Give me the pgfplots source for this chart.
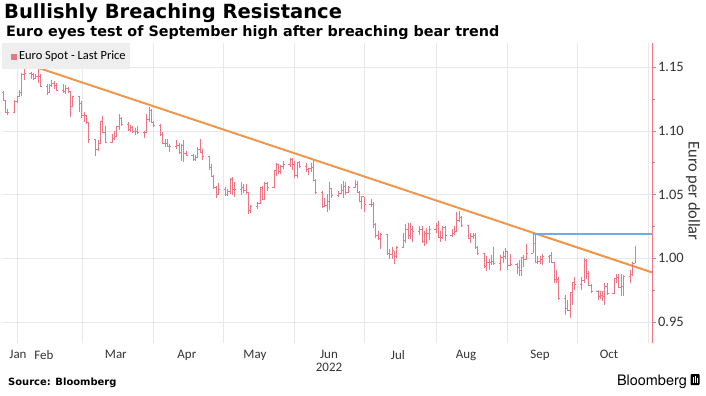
\documentclass[border=0pt]{standalone}
\usepackage{fontspec}
\usepackage{pgfplots}
\pgfplotsset{compat=1.18}
\usepackage{pgfplotstable}
\setmainfont{Carlito}
\newfontfamily\djv{DejaVu Sans}
\newfontfamily\heros{TeX Gyre Heros}
\definecolor{barc}{RGB}{238,118,132}
\definecolor{trendc}{RGB}{242,150,78}
\definecolor{bluec}{RGB}{110,172,230}
\definecolor{axisc}{RGB}{242,120,128}
\definecolor{gridc}{RGB}{232,232,232}
\definecolor{legbg}{RGB}{238,238,238}

\pgfdeclareplotmark{emptymk}{}

\pgfplotstableread{
d o h l c
25 1.1300 1.1310 1.1235 1.1240
26 1.1240 1.1245 1.1140 1.1145
27 1.1145 1.1175 1.1121 1.1148
30 1.1148 1.1240 1.1145 1.1235
31 1.1235 1.1275 1.1215 1.1270
32 1.1270 1.1320 1.1265 1.1305
33 1.1305 1.1450 1.1270 1.1440
34 1.1440 1.1485 1.1395 1.1455
37 1.1455 1.1465 1.1410 1.1440
38 1.1440 1.1450 1.1400 1.1415
39 1.1415 1.1445 1.1405 1.1425
40 1.1425 1.1495 1.1375 1.1425
41 1.1425 1.1445 1.1345 1.1350
44 1.1350 1.1365 1.1280 1.1305
45 1.1305 1.1370 1.1300 1.1360
46 1.1360 1.1395 1.1345 1.1375
47 1.1375 1.1390 1.1330 1.1360
48 1.1360 1.1375 1.1315 1.1320
51 1.1320 1.1365 1.1295 1.1310
52 1.1310 1.1360 1.1290 1.1330
53 1.1330 1.1345 1.1300 1.1310
54 1.1310 1.1315 1.1106 1.1190
55 1.1190 1.1275 1.1185 1.1270
58 1.1270 1.1275 1.1150 1.1220
59 1.1220 1.1235 1.1100 1.1125
60 1.1125 1.1150 1.1070 1.1120
61 1.1120 1.1125 1.1050 1.1065
62 1.1065 1.1070 1.0905 1.0930
65 1.0930 1.0935 1.0806 1.0855
66 1.0855 1.0925 1.0845 1.0900
67 1.0900 1.1080 1.0895 1.1075
68 1.1075 1.1120 1.0980 1.0985
69 1.0985 1.1040 1.0905 1.0912
72 1.0912 1.0975 1.0905 1.0940
73 1.0940 1.1000 1.0930 1.0955
74 1.0955 1.1040 1.0950 1.1035
75 1.1035 1.1135 1.1005 1.1095
76 1.1095 1.1105 1.1035 1.1050
79 1.1050 1.1070 1.1000 1.1015
80 1.1015 1.1045 1.0990 1.1030
81 1.1030 1.1040 1.0985 1.1000
82 1.1000 1.1025 1.0965 1.0995
83 1.0995 1.1035 1.0975 1.0985
86 1.0985 1.1000 1.0945 1.0985
87 1.0985 1.1135 1.0980 1.1090
88 1.1090 1.1185 1.1070 1.1160
89 1.1160 1.1170 1.1060 1.1067
90 1.1067 1.1075 1.1030 1.1045
93 1.1045 1.1050 1.0960 1.0970
94 1.0970 1.0990 1.0900 1.0905
95 1.0905 1.0935 1.0870 1.0900
96 1.0900 1.0935 1.0870 1.0880
97 1.0880 1.0900 1.0837 1.0875
100 1.0875 1.0925 1.0860 1.0885
101 1.0885 1.0905 1.0820 1.0830
102 1.0830 1.0900 1.0760 1.0890
103 1.0890 1.0925 1.0757 1.0825
104 1.0825 1.0840 1.0800 1.0810
107 1.0810 1.0815 1.0760 1.0780
108 1.0780 1.0810 1.0760 1.0790
109 1.0790 1.0870 1.0785 1.0853
110 1.0853 1.0935 1.0825 1.0835
111 1.0835 1.0860 1.0770 1.0798
114 1.0798 1.0805 1.0695 1.0715
115 1.0715 1.0740 1.0635 1.0640
116 1.0640 1.0650 1.0545 1.0560
117 1.0560 1.0565 1.0470 1.0500
118 1.0500 1.0590 1.0495 1.0545
121 1.0545 1.0560 1.0490 1.0505
122 1.0505 1.0545 1.0490 1.0525
123 1.0525 1.0630 1.0505 1.0620
124 1.0620 1.0640 1.0495 1.0540
125 1.0540 1.0600 1.0485 1.0545
128 1.0545 1.0595 1.0500 1.0560
129 1.0560 1.0580 1.0510 1.0530
130 1.0530 1.0580 1.0505 1.0515
131 1.0515 1.0520 1.0350 1.0380
132 1.0380 1.0420 1.0355 1.0410
135 1.0410 1.0445 1.0390 1.0435
136 1.0435 1.0560 1.0430 1.0555
137 1.0555 1.0565 1.0460 1.0465
138 1.0465 1.0600 1.0460 1.0585
139 1.0585 1.0600 1.0530 1.0560
142 1.0560 1.0695 1.0555 1.0690
143 1.0690 1.0750 1.0645 1.0735
144 1.0735 1.0740 1.0660 1.0680
145 1.0680 1.0735 1.0665 1.0725
146 1.0725 1.0765 1.0700 1.0735
149 1.0735 1.0787 1.0715 1.0780
150 1.0780 1.0785 1.0690 1.0735
151 1.0735 1.0765 1.0630 1.0650
152 1.0650 1.0755 1.0630 1.0750
153 1.0750 1.0765 1.0705 1.0720
156 1.0720 1.0750 1.0680 1.0695
157 1.0695 1.0710 1.0655 1.0705
158 1.0705 1.0750 1.0680 1.0715
159 1.0715 1.0775 1.0610 1.0615
160 1.0615 1.0625 1.0505 1.0520
163 1.0520 1.0525 1.0395 1.0410
164 1.0410 1.0475 1.0400 1.0415
165 1.0415 1.0505 1.0360 1.0445
166 1.0445 1.0600 1.0380 1.0550
167 1.0550 1.0555 1.0475 1.0495
170 1.0495 1.0530 1.0485 1.0510
171 1.0510 1.0580 1.0505 1.0535
172 1.0535 1.0605 1.0470 1.0565
173 1.0565 1.0595 1.0500 1.0520
174 1.0520 1.0570 1.0515 1.0555
177 1.0555 1.0615 1.0550 1.0580
178 1.0580 1.0605 1.0510 1.0520
179 1.0520 1.0530 1.0440 1.0445
180 1.0445 1.0490 1.0385 1.0485
181 1.0485 1.0485 1.0365 1.0425
184 1.0425 1.0465 1.0405 1.0425
185 1.0425 1.0445 1.0235 1.0265
186 1.0265 1.0275 1.0160 1.0180
187 1.0180 1.0215 1.0145 1.0160
188 1.0160 1.0200 1.0070 1.0185
191 1.0185 1.0190 1.0030 1.0040
192 1.0040 1.0070 0.9998 1.0035
193 1.0035 1.0090 0.9998 1.0060
194 1.0060 1.0060 0.9952 1.0020
195 1.0020 1.0095 1.0005 1.0085
198 1.0085 1.0200 1.0080 1.0145
199 1.0145 1.0270 1.0120 1.0225
200 1.0225 1.0275 1.0155 1.0180
201 1.0180 1.0280 1.0155 1.0230
202 1.0230 1.0255 1.0130 1.0210
205 1.0210 1.0255 1.0180 1.0225
206 1.0225 1.0250 1.0120 1.0130
207 1.0130 1.0215 1.0095 1.0200
208 1.0200 1.0235 1.0115 1.0195
209 1.0195 1.0255 1.0145 1.0225
212 1.0225 1.0275 1.0200 1.0260
213 1.0260 1.0295 1.0160 1.0165
214 1.0165 1.0215 1.0125 1.0165
215 1.0165 1.0255 1.0150 1.0245
216 1.0245 1.0250 1.0140 1.0180
219 1.0180 1.0230 1.0165 1.0195
220 1.0195 1.0250 1.0185 1.0210
221 1.0210 1.0365 1.0205 1.0295
222 1.0295 1.0368 1.0285 1.0320
223 1.0320 1.0330 1.0245 1.0260
226 1.0260 1.0265 1.0150 1.0160
227 1.0160 1.0200 1.0120 1.0170
228 1.0170 1.0200 1.0150 1.0180
229 1.0180 1.0200 1.0075 1.0085
230 1.0085 1.0095 1.0030 1.0040
233 1.0040 1.0045 0.9925 0.9940
234 0.9940 1.0015 0.9900 0.9970
235 0.9970 0.9995 0.9905 0.9970
236 0.9970 1.0030 0.9950 0.9975
237 0.9975 1.0090 0.9945 0.9965
240 0.9965 1.0025 0.9900 1.0005
241 1.0005 1.0055 0.9965 1.0015
242 1.0015 1.0080 0.9995 1.0055
243 1.0055 1.0055 0.9910 0.9945
244 0.9945 1.0035 0.9940 0.9955
247 0.9955 0.9960 0.9875 0.9930
248 0.9930 0.9990 0.9865 0.9905
249 0.9905 1.0010 0.9865 1.0010
250 1.0010 1.0030 0.9930 0.9995
251 0.9995 1.0115 0.9990 1.0040
254 1.0040 1.0198 1.0045 1.0120
255 1.0120 1.0185 0.9965 0.9970
256 0.9970 1.0020 0.9955 0.9980
257 0.9980 1.0015 0.9955 0.9990
258 0.9990 1.0035 0.9945 1.0015
261 1.0015 1.0030 0.9965 1.0025
262 1.0025 1.0050 0.9965 0.9970
263 0.9970 0.9975 0.9810 0.9835
264 0.9835 0.9905 0.9810 0.9835
265 0.9835 0.9850 0.9670 0.9690
268 0.9690 0.9710 0.9553 0.9605
269 0.9605 0.9670 0.9590 0.9590
270 0.9590 0.9740 0.9536 0.9735
271 0.9735 0.9815 0.9635 0.9815
272 0.9815 0.9855 0.9750 0.9800
275 0.9800 0.9855 0.9755 0.9825
276 0.9825 0.9999 0.9810 0.9985
277 0.9985 0.9995 0.9835 0.9880
278 0.9880 0.9900 0.9780 0.9790
279 0.9790 0.9800 0.9725 0.9740
282 0.9740 0.9750 0.9670 0.9705
283 0.9705 0.9745 0.9685 0.9710
284 0.9710 0.9745 0.9665 0.9705
285 0.9705 0.9810 0.9632 0.9780
286 0.9780 0.9810 0.9710 0.9725
289 0.9725 0.9845 0.9720 0.9840
290 0.9840 0.9875 0.9805 0.9855
291 0.9855 0.9875 0.9765 0.9775
292 0.9775 0.9875 0.9705 0.9780
293 0.9780 0.9870 0.9705 0.9860
296 0.9860 0.9905 0.9810 0.9875
297 0.9875 0.9975 0.9865 0.9965
298 0.9965 1.0094 0.9960 1.0080
}\eurusd

\begin{document}
\begin{tikzpicture}[x=1bp,y=1bp]
\useasboundingbox (0,0) rectangle (706,-395);
\coordinate (AxSW) at (2,-343);
\begin{axis}[
  at={(AxSW)}, anchor=south west, scale only axis,
  width=650bp, height=300bp,
  xmin=24.5, xmax=305.4, ymin=0.9336, ymax=1.1689,
  axis y line*=right, axis x line*=bottom,
  x axis line style={draw=none},
  y axis line style={draw=axisc, line width=0.8pt},
  xtick={31.4,42.6,73.7,104.4,133.8,165.8,195.6,225,257,286.8},
  xticklabels={Jan,Feb,Mar,Apr,May,Jun,Jul,Aug,Sep,Oct},
  minor xtick={31,59,90,120,151,181,212,243,273,304},
  xmajorgrids=false, xminorgrids=true, ymajorgrids=true,
  major grid style={gridc, line width=0.6pt},
  minor grid style={gridc, line width=0.6pt},
  x tick style={draw=none},
  ytick={0.95,1.00,1.05,1.10,1.15},
  yticklabels={0.95,1.00,1.05,1.10,1.15},
  minor ytick={0.975,1.025,1.075,1.125},
  y tick style={axisc, line width=0.6pt},
  tick align=outside, major tick length=4bp, minor tick length=2.5bp,
  xticklabel style={font=\fontsize{13}{13}\selectfont, text=black!80},
  yticklabel style={font=\fontsize{14.5}{14.5}\selectfont, text=black!80, xshift=-1.5bp},
  legend style={at={(0,1)}, anchor=north west, draw=none, fill=legbg,
    font=\fontsize{12.5}{12.5}\selectfont, inner xsep=2bp, inner ysep=5.5bp,
    nodes={inner sep=2.5bp}},
  legend cell align=left,
  clip=true,
]
\addplot[scatter, only marks, mark=emptymk,
  legend image code/.code={\path (0bp,0bp); \fill[barc] (7bp,-2.5bp) rectangle (12bp,2.5bp);},
  visualization depends on={\thisrow{h}-\thisrow{c} \as \vhi},
  visualization depends on={\thisrow{l}-\thisrow{c} \as \vlo},
  visualization depends on={\thisrow{o}-\thisrow{c} \as \vop},
  scatter/@pre marker code/.code={%
    \draw[barc, line width=0.7pt] (axis direction cs:0,\vhi) -- (axis direction cs:0,\vlo);
    \draw[barc, line width=0.6pt] (axis direction cs:0,\vop) -- +(-1.6bp,0pt);
    \draw[barc, line width=0.6pt] (0pt,0pt) -- (1.6bp,0pt);
  },
  scatter/@post marker code/.code={},
] table[x=d, y=c] {\eurusd};
\addlegendentry{Euro Spot - Last Price}
\addplot[forget plot, trendc, line width=2pt] coordinates {(40,1.1495) (305.4,0.9890)};
\addplot[forget plot, bluec, line width=1.8pt] coordinates {(254,1.0190) (305.4,1.0190)};
\end{axis}
\node[anchor=base west, inner sep=0, font=\djv\bfseries\fontsize{19.6}{19.6}\selectfont] at (4,-18.5) {Bullishly Breaching Resistance};
\node[anchor=base west, inner sep=0, font=\djv\bfseries\fontsize{14.4}{14.4}\selectfont] at (6,-36) {Euro eyes test of September high after breaching bear trend};
\node[anchor=center, inner sep=0, font=\fontsize{13}{13}\selectfont, text=black!80] at (329,-367) {2022};
\node[rotate=-90, anchor=center, inner sep=0, font=\fontsize{16.5}{16.5}\selectfont, text=black!80] at (693,-191) {Euro per dollar};
\node[anchor=base west, inner sep=0, font=\djv\bfseries\fontsize{10}{10}\selectfont] at (8,-385) {Source: Bloomberg};
\node[anchor=base east, inner sep=0, font=\heros\fontsize{14.5}{14.5}\selectfont] at (687,-385) {Bloomberg};
\fill[black, rounded corners=1bp] (690.5,-374) rectangle (699.5,-385);
\draw[white, line width=0.8pt] (693,-377) -- (693,-383) (695,-376) -- (695,-383) (697,-378) -- (697,-383);
\end{tikzpicture}
\end{document}
